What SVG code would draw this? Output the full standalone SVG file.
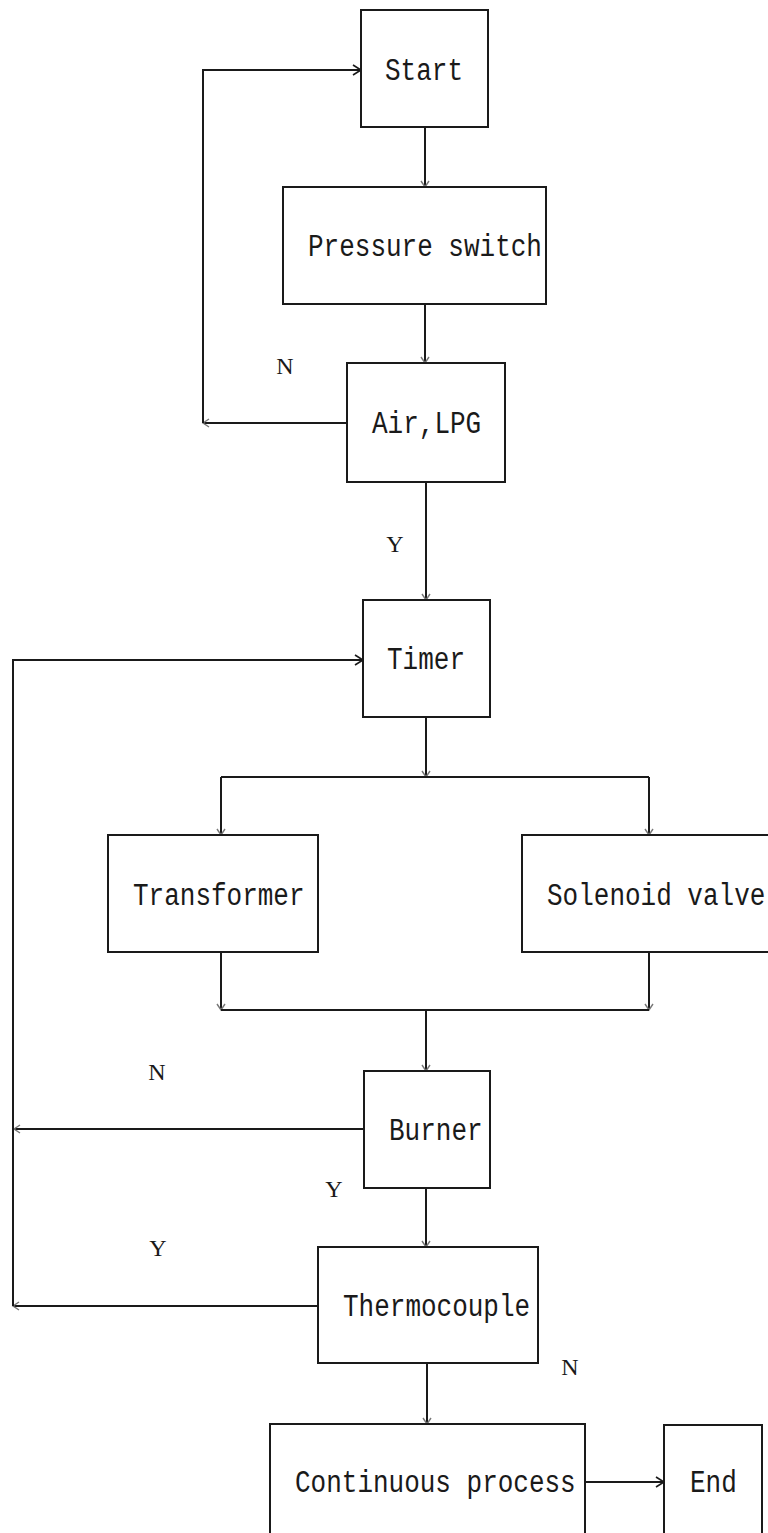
<svg xmlns="http://www.w3.org/2000/svg" width="768" height="1533" viewBox="0 0 768 1533">
<style>
.box{fill:#fff;stroke:#1a1a1a;stroke-width:2}
.t{font-family:"Liberation Mono","DejaVu Sans Mono",monospace;font-size:26px;fill:#1a1a1a}
.lb{font-family:"Liberation Serif","DejaVu Serif",serif;font-size:24px;fill:#1a1a1a;text-anchor:middle}
.c{fill:none;stroke:#1a1a1a;stroke-width:2}
</style>
<defs>
<marker id="a" markerUnits="userSpaceOnUse" markerWidth="12" markerHeight="12" refX="10" refY="6" orient="auto">
<path d="M2,1 L10,6 L2,11" fill="none" stroke="#1a1a1a" stroke-width="1.6"/>
</marker>
<marker id="f" markerUnits="userSpaceOnUse" markerWidth="12" markerHeight="12" refX="10" refY="6" orient="auto">
<path d="M4,2 L10,6 L4,10" fill="none" stroke="#777" stroke-width="1.4"/>
</marker>
</defs>
<g id="connectors">
<path class="c" d="M425,127 V187" marker-end="url(#f)"/>
<path class="c" d="M425,304 V363" marker-end="url(#f)"/>
<path class="c" d="M347,423 H203" marker-end="url(#f)"/>
<path class="c" d="M203,423 V70 H361" marker-end="url(#a)"/>
<path class="c" d="M426,482 V600" marker-end="url(#f)"/>
<path class="c" d="M426,717 V777" marker-end="url(#f)"/>
<path class="c" d="M221,777 H649"/>
<path class="c" d="M221,777 V835" marker-end="url(#f)"/>
<path class="c" d="M649,777 V835" marker-end="url(#f)"/>
<path class="c" d="M221,952 V1010" marker-end="url(#f)"/>
<path class="c" d="M649,952 V1010" marker-end="url(#f)"/>
<path class="c" d="M221,1010 H649"/>
<path class="c" d="M426,1010 V1071" marker-end="url(#f)"/>
<path class="c" d="M364,1129 H14" marker-end="url(#f)"/>
<path class="c" d="M426,1188 V1247" marker-end="url(#f)"/>
<path class="c" d="M318,1306 H13" marker-end="url(#f)"/>
<path class="c" d="M13,1306 V660 H363" marker-end="url(#a)"/>
<path class="c" d="M427,1363 V1424" marker-end="url(#f)"/>
<path class="c" d="M585,1482 H664" marker-end="url(#a)"/>
</g>
<g id="start"><rect class="box" x="361" y="10" width="127" height="117"/><text class="t" transform="translate(385,80) scale(1,1.2)">Start</text></g>
<g id="pressure"><rect class="box" x="283" y="187" width="263" height="117"/><text class="t" transform="translate(308,256) scale(1,1.2)">Pressure switch</text></g>
<g id="airlpg"><rect class="box" x="347" y="363" width="158" height="119"/><text class="t" transform="translate(372,433) scale(1,1.2)">Air,LPG</text></g>
<g id="timer"><rect class="box" x="363" y="600" width="127" height="117"/><text class="t" transform="translate(387,669) scale(1,1.2)">Timer</text></g>
<g id="transformer"><rect class="box" x="108" y="835" width="210" height="117"/><text class="t" transform="translate(133,905) scale(1,1.2)">Transformer</text></g>
<g id="solenoid"><rect class="box" x="522" y="835" width="260" height="117"/><text class="t" transform="translate(547,905) scale(1,1.2)">Solenoid valve</text></g>
<g id="burner"><rect class="box" x="364" y="1071" width="126" height="117"/><text class="t" transform="translate(389,1140) scale(1,1.2)">Burner</text></g>
<g id="thermocouple"><rect class="box" x="318" y="1247" width="220" height="116"/><text class="t" transform="translate(343,1316) scale(1,1.2)">Thermocouple</text></g>
<g id="continuous"><rect class="box" x="270" y="1424" width="315" height="130"/><text class="t" transform="translate(295,1492) scale(1,1.2)">Continuous process</text></g>
<g id="end"><rect class="box" x="664" y="1425" width="98" height="130"/><text class="t" transform="translate(690,1492) scale(1,1.2)">End</text></g>
<g id="labels">
<text class="lb" x="285" y="374">N</text>
<text class="lb" x="395" y="552">Y</text>
<text class="lb" x="157" y="1080">N</text>
<text class="lb" x="334" y="1197">Y</text>
<text class="lb" x="158" y="1256">Y</text>
<text class="lb" x="570" y="1375">N</text>
</g>
</svg>
